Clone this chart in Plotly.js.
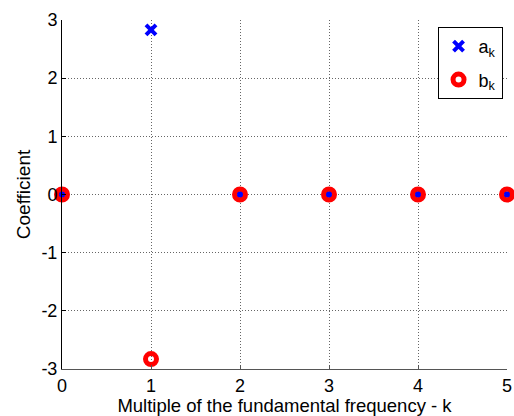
<!DOCTYPE html>
<html>
<head>
<meta charset="utf-8">
<script src="https://cdn.plot.ly/plotly-3.0.1.min.js"></script>
<style>html,body{margin:0;padding:0;background:#fff;}#chart{width:514px;height:416px;}</style>
</head>
<body>
<div id="chart"></div>
<script>
var k = [0, 1, 2, 3, 4, 5];
var ak = [0, 2.83, 0, 0, 0, 0];
var bk = [0, -2.83, 0, 0, 0, 0];
var xTicks = [0, 1, 2, 3, 4, 5];
var yTicks = [-3, -2, -1, 0, 1, 2, 3];

var font = 'Liberation Sans, Arial, sans-serif';
var data = [
  {x: k, y: ak, type: 'scatter', mode: 'markers', name: 'a<sub>k</sub>', cliponaxis: false, legendgroup: 'a',
   marker: {symbol: 'x-thin-open', size: 10, color: '#0000ff', line: {width: 4, color: '#0000ff'}}},
  {x: k, y: bk, type: 'scatter', mode: 'markers', name: 'b<sub>k</sub>', cliponaxis: false, legendgroup: 'b',
   marker: {symbol: 'circle-open', size: 11, color: '#ff0000', line: {width: 5, color: '#ff0000'}}}
];
var gridStyle = {showgrid: true, gridcolor: '#666', griddash: '1px,2px', gridwidth: 1, zeroline: false};
var layout = {
  width: 514, height: 416,
  margin: {l: 62, r: 6.5, t: 20, b: 47},
  paper_bgcolor: '#fff', plot_bgcolor: '#fff',
  font: {family: font, size: 18, color: '#000'},
  showlegend: true,
  legend: {x: 0.99, xanchor: 'right', y: 0.98, yanchor: 'top', bordercolor: '#000', borderwidth: 1,
           bgcolor: '#fff', font: {family: font, size: 18, color: '#000'}, traceorder: 'grouped', tracegroupgap: 7,
           entrywidth: 74, entrywidthmode: 'pixels'},
  xaxis: Object.assign({range: [0, 5], tickvals: xTicks, ticktext: xTicks.map(String), ticks: 'inside', ticklen: 4,
          showline: true, linecolor: '#555', linewidth: 1, tickcolor: '#555', ticklabeloverflow: 'allow',
          tickfont: {size: 18}, title: {text: 'Multiple of the fundamental frequency - k', font: {size: 18.5}, standoff: 2}}, gridStyle),
  yaxis: Object.assign({range: [-3, 3], tickvals: yTicks, ticktext: yTicks.map(String), ticks: 'inside', ticklen: 4,
          showline: true, linecolor: '#000', linewidth: 1, tickcolor: '#000', ticklabeloverflow: 'allow',
          tickfont: {size: 18}, title: {text: 'Coefficient', font: {size: 19}, standoff: 5}}, gridStyle)
};
Plotly.newPlot('chart', data, layout, {displayModeBar: false, staticPlot: true});
</script>
</body>
</html>
